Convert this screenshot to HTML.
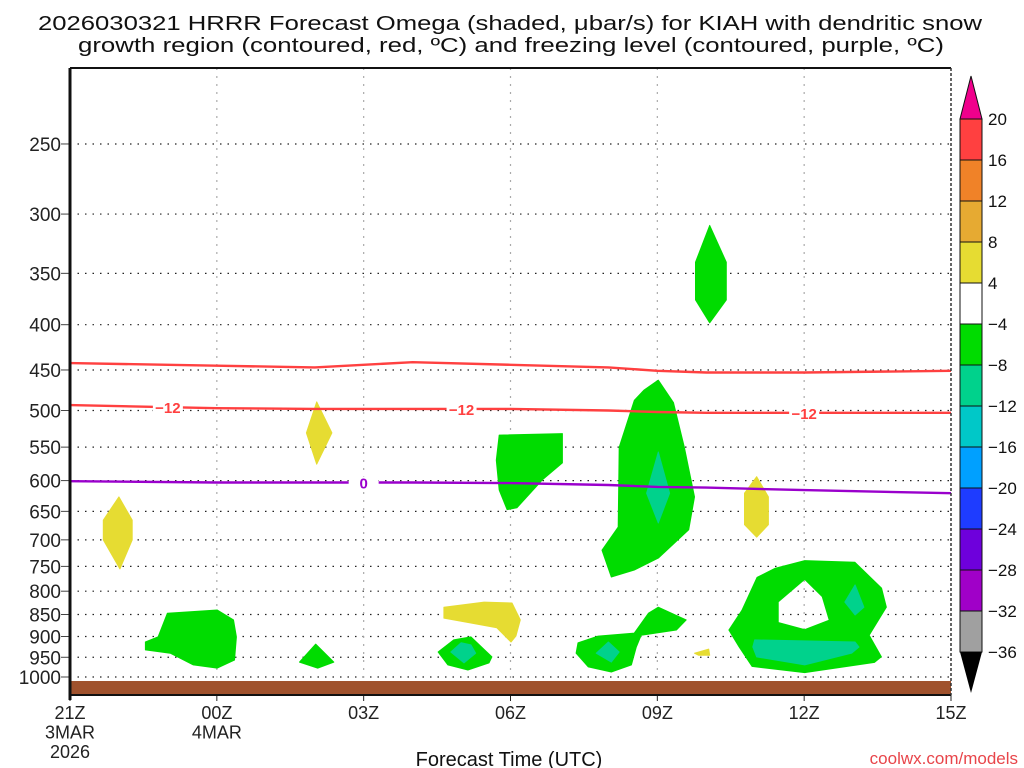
<!DOCTYPE html>
<html><head><meta charset="utf-8"><style>
html,body{margin:0;padding:0;background:#fff;}
svg{display:block;font-family:"Liberation Sans",sans-serif;}
</style></head><body>
<svg id="chart" width="1024" height="768" viewBox="0 0 1024 768" xmlns="http://www.w3.org/2000/svg">
<g>
<text x="510" y="30" font-size="20.5" text-anchor="middle" textLength="944" lengthAdjust="spacingAndGlyphs" fill="#111">2026030321 HRRR Forecast Omega (shaded, μbar/s) for KIAH with dendritic snow</text>
<text x="511" y="52" font-size="20.5" text-anchor="middle" textLength="866" lengthAdjust="spacingAndGlyphs" fill="#111">growth region (contoured, red, ºC) and freezing level (contoured, purple, ºC)</text>
</g>
<g id="grid"></g>
<g id="shading"></g>
<g id="contours"></g>
<g id="axes"></g>
<g id="cbar"></g>
<text x="509" y="766" font-size="20" text-anchor="middle" fill="#111">Forecast Time (UTC)</text>
<text x="1018" y="764" font-size="17" text-anchor="end" fill="#e8454a">coolwx.com/models</text>
</svg>
<script>
const pressureTicks=[250,300,350,400,450,500,550,600,650,700,750,800,850,900,950,1000];
const timeTickHours=[0,3,6,9,12,15,18];
const timeTickLabels=[["21Z","3MAR","2026"],["00Z","4MAR"],["03Z"],["06Z"],["09Z"],["12Z"],["15Z"]];
const lineHours=[0,3,5,7,9,11,12,13,15,18];
const dgzTop=[442,445,447,441,444,447,451,453,453,451];
const dgzBottom=[493,497,498,498,498,500,502,503,503,503];
const freezing=[601,603,603,603,604,607,610,611,615,620];
const cbarLevels=[20,16,12,8,4,-4,-8,-12,-16,-20,-24,-28,-32,-36];
const cbarColors=["#ff4040","#f08228","#e6aa32","#e6dc32","#ffffff","#00dc00","#00d28c","#00c8c8","#00a0ff","#1e3cff","#6e00dc","#a000c8","#a0a0a0"];
const greenBlobs=[
 [[1.54,913],[1.8,901],[1.99,847],[3.01,840],[3.34,862],[3.4,901],[3.36,957],[3.01,977],[2.52,969],[2.05,940],[1.54,932]],
 [[5.02,918],[5.39,962],[5.06,977],[4.69,962]],
 [[7.52,937],[7.84,908],[8.19,901],[8.62,949],[8.56,964],[8.13,982],[7.72,969]],
 [[8.77,533],[10.06,531],[10.06,573],[9.65,599],[9.13,644],[8.93,647],[8.77,615],[8.71,569]],
 [[12.02,462],[12.33,490],[12.55,550],[12.76,626],[12.64,682],[12.02,734],[11.53,757],[11.06,771],[10.87,719],[11.2,677],[11.22,550],[11.53,487],[11.73,474]],
 [[13.07,309],[13.41,340],[13.41,375],[13.07,398],[12.78,375],[12.78,340]],
 [[10.38,915],[10.79,899],[11.53,892],[11.82,847],[12.02,834],[12.59,862],[12.39,885],[11.67,897],[11.57,925],[11.47,969],[11.06,987],[10.59,974],[10.34,940]]
];
const ringOuter=[[15.01,738],[16.04,741],[16.59,793],[16.69,834],[16.34,897],[16.59,949],[16.44,964],[15.01,990],[13.93,974],[13.66,925],[13.45,885],[13.72,840],[14.03,771],[14.4,753]];
const ringHole=[[15.01,777],[15.36,812],[15.5,862],[15.01,883],[14.48,867],[14.48,823]];
const tealBlobs=[
 [[7.78,937],[7.99,915],[8.19,920],[8.29,940],[8.05,964]],
 [[12.02,557],[12.25,620],[12.02,670],[11.78,620]],
 [[11.0,913],[11.22,937],[11.06,962],[10.75,940]],
 [[13.99,908],[16.04,913],[16.12,925],[15.97,940],[15.01,969],[14.03,949],[13.95,925]],
 [[16.04,787],[16.22,834],[16.04,851],[15.83,823]]
];
const yellowBlobs=[
 [[1.0,626],[1.27,665],[1.27,700],[1.02,755],[0.68,700],[0.68,665]],
 [[5.04,489],[5.35,530],[5.04,575],[4.83,530]],
 [[7.64,834],[8.46,823],[9.03,825],[9.2,862],[9.11,899],[9.01,913],[8.72,880],[8.19,869],[7.64,858]],
 [[14.03,594],[14.27,626],[14.27,673],[14.03,695],[13.78,673],[13.78,620]],
 [[12.76,940],[13.05,930],[13.07,945],[12.84,945]]
];
const dgzLabelHours=[2,8,15];
const fzLabelHours=[6];

const X0=70,X1=951,Y0=68,Y1=695;
const xS=h=>X0+(X1-X0)*h/18;
const yS=p=>677-384.5*Math.log(1000/p);
const NS="http://www.w3.org/2000/svg";
function mk(tag,attrs,parent){const e=document.createElementNS(NS,tag);for(const k in attrs)e.setAttribute(k,attrs[k]);parent.appendChild(e);return e;}
const grid=document.getElementById('grid'),shade=document.getElementById('shading'),cont=document.getElementById('contours'),axes=document.getElementById('axes'),cbar=document.getElementById('cbar');

pressureTicks.forEach(p=>{
 const l=mk('line',{x1:X0,x2:X1,y1:yS(p),y2:yS(p),stroke:'#222','stroke-width':1.2,'stroke-dasharray':'1.5 6'},grid);
 
 
 const t=mk('text',{x:61,y:yS(p)+7,'font-size':19,'text-anchor':'end',fill:'#222'},axes);
 t.textContent=p;
 
 
 mk('line',{x1:61,x2:X0,y1:yS(p),y2:yS(p),stroke:'#444','stroke-width':1},axes);
});
timeTickHours.forEach((h,i)=>{
 if(h>0&&h<18){const l=mk('line',{x1:xS(h),x2:xS(h),y1:Y0,y2:Y1,stroke:'#aaa','stroke-width':1.2,'stroke-dasharray':'2 6'},grid);
 
 }
 timeTickLabels[i].forEach((s,j)=>{
  const t=mk('text',{x:xS(h),y:719+j*19.5,'font-size':18,'text-anchor':'middle',fill:'#222'},axes);
  t.textContent=s;
  
  
 });
 mk('line',{x1:xS(h),x2:xS(h),y1:Y1,y2:Y1+6,stroke:'#222','stroke-width':1},axes);
});
function poly(pts,fill,name,parent){
 const d=pts.map((q,i)=>(i?'L':'M')+xS(q[0]).toFixed(1)+' '+yS(q[1]).toFixed(1)).join(' ')+'Z';
 const e=mk('path',{d:d,fill:fill,stroke:fill,'stroke-width':1,'stroke-linejoin':'round'},parent);
 
 
 return d;
}
yellowBlobs.forEach(b=>poly(b,'#e6dc32','upward-omega-area',shade));
greenBlobs.forEach(b=>poly(b,'#00dc00','downward-omega-area',shade));
{const d1=ringOuter.map((q,i)=>(i?'L':'M')+xS(q[0])+' '+yS(q[1])).join(' ')+'Z';
 const d2=ringHole.map((q,i)=>(i?'L':'M')+xS(q[0])+' '+yS(q[1])).join(' ')+'Z';
 const e=mk('path',{d:d1+' '+d2,fill:'#00dc00','fill-rule':'evenodd'},shade);
 
 }
tealBlobs.forEach(b=>poly(b,'#00d28c','strong-omega-area',shade));
// ground
{const g=mk('rect',{x:X0,y:681,width:X1-X0,height:Y1-681,fill:'#a0522d'},shade);

}
function interp(arr,h){for(let i=0;i<lineHours.length-1;i++){if(h<=lineHours[i+1]){const f=(h-lineHours[i])/(lineHours[i+1]-lineHours[i]);return arr[i]+f*(arr[i+1]-arr[i]);}}return arr[arr.length-1];}
function cline(arr,color,name){
 const d=lineHours.map((h,i)=>(i?'L':'M')+xS(h).toFixed(1)+' '+yS(arr[i]).toFixed(1)).join(' ');
 const e=mk('path',{d:d,fill:'none',stroke:color,'stroke-width':2.4},cont);
 
 
}
cline(dgzTop,'#ff4040','dgz-upper-contour');
cline(dgzBottom,'#ff4040','dgz-minus12-contour');
cline(freezing,'#9a00cc','freezing-level-contour');
function clabel(arr,h,txt,color){
 const x=xS(h),y=yS(interp(arr,h));
 mk('rect',{x:x-15,y:y-6,width:30,height:12,fill:'#fff'},cont);
 const t=mk('text',{x:x,y:y+6,'font-size':15,'font-weight':'bold','text-anchor':'middle',fill:color},cont);
 t.textContent=txt;
 
 
}
dgzLabelHours.forEach(h=>clabel(dgzBottom,h,'−12','#ff4040'));
fzLabelHours.forEach(h=>clabel(freezing,h,'0','#9a00cc'));
// frame
mk('line',{x1:X0,x2:X1,y1:Y0,y2:Y0,stroke:'#111','stroke-width':2},axes);
mk('line',{x1:X0,x2:X1,y1:Y1,y2:Y1,stroke:'#111','stroke-width':2},axes);
mk('line',{x1:X0,x2:X0,y1:Y0,y2:Y1+5,stroke:'#111','stroke-width':3},axes);
mk('line',{x1:X1,x2:X1,y1:Y0,y2:Y1,stroke:'#333','stroke-width':1.5,'stroke-dasharray':'3 2'},axes);
// colorbar
const CX=960,CW=22,CT=119,CH=41;
cbarColors.forEach((c,i)=>{
 const r=mk('rect',{x:CX,y:CT+i*CH,width:CW,height:CH,fill:c,stroke:'#111','stroke-width':1},cbar);
 
 
});
mk('path',{d:`M${CX} ${CT} L${CX+CW/2} 76 L${CX+CW} ${CT}Z`,fill:'#f0008c',stroke:'#111','stroke-width':1},cbar);
const nb=cbarColors.length;
mk('path',{d:`M${CX} ${CT+nb*CH} L${CX+CW/2} 693 L${CX+CW} ${CT+nb*CH}Z`,fill:'#000'},cbar);
cbarLevels.forEach((v,i)=>{
 const t=mk('text',{x:988,y:CT+i*CH+6,'font-size':17,fill:'#111'},cbar);
 t.textContent=v<0?'−'+(-v):String(v);
 
 
});
</script>
</body></html>
